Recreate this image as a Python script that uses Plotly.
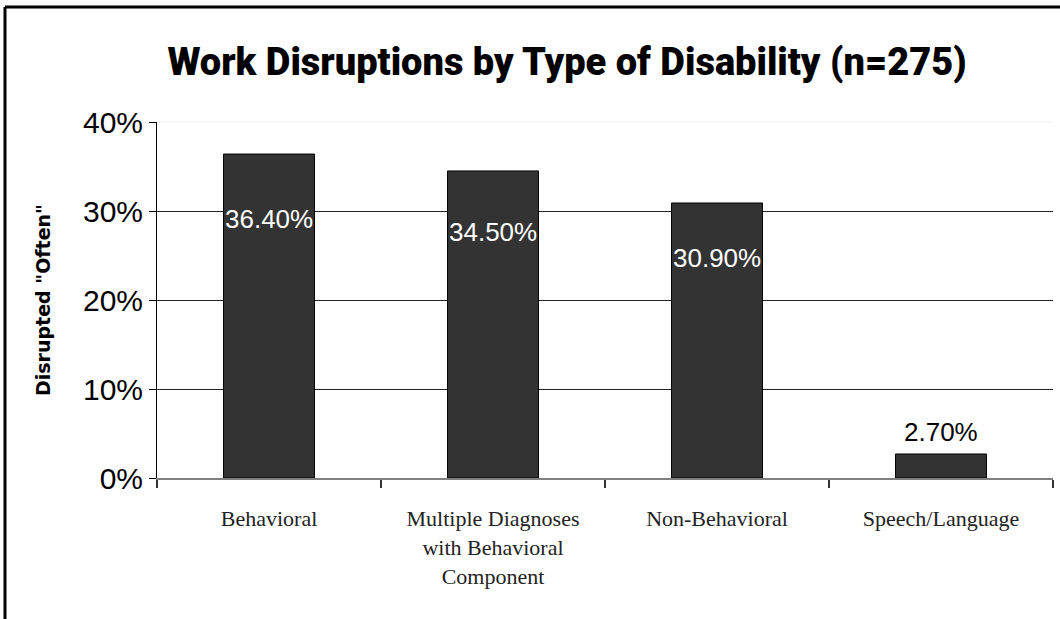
import plotly.graph_objects as go

categories = ["Behavioral", "Multiple Diagnoses<br>with Behavioral<br>Component", "Non-Behavioral", "Speech/Language"]
values = [36.4, 34.5, 30.9, 2.7]
labels = ["36.40%", "34.50%", "30.90%", "2.70%"]
y_ticks = [0, 10, 20, 30, 40]
y_tick_text = ["0%", "10%", "20%", "30%", "40%"]

fig = go.Figure()
fig.add_trace(go.Bar(
    x=categories, y=values,
    marker=dict(color="#333333", line=dict(color="#000000", width=1)),
    hoverinfo="skip",
))

# data labels: inside (white) for tall bars, above (black) for the short one
for c, v, t in zip(categories, values, labels):
    if v > 10:
        fig.add_annotation(x=c, y=v * 0.8, text=t, showarrow=False,
                           font=dict(family="Liberation Sans, Arial", size=26, color="white"),
                           yanchor="middle")
    else:
        fig.add_annotation(x=c, y=v, text=t, showarrow=False, yshift=5,
                           font=dict(family="Liberation Sans, Arial", size=26, color="black"),
                           yanchor="bottom")

W, H = 1060, 619
L, R, T, B = 157, 7, 122, 141
pw = W - L - R
ph = H - T - B

def px_x(p):
    return (p - L) / pw

def px_y(p):
    return (H - B - p) / ph

fig.update_layout(
    width=W, height=H,
    margin=dict(l=L, r=R, t=T, b=B),
    paper_bgcolor="white", plot_bgcolor="white",
    bargap=0.594,
    showlegend=False,
    title=dict(text="Work Disruptions by Type of Disability (n=275)",
               x=567 / W, xref="container", xanchor="center",
               y=1 - 62 / H, yref="container", yanchor="middle",
               font=dict(family="Roboto, Liberation Sans, Arial", size=38, color="black", weight=900)),
    xaxis=dict(
        type="category", tickson="boundaries", ticks="outside", ticklen=8,
        tickcolor="#333333", tickwidth=2,
        showline=True, linecolor="#808080", linewidth=2,
        showgrid=False,
        tickfont=dict(family="Liberation Serif, Times New Roman, serif", size=22, color="#222222"),
        ticklabelstandoff=20,
    ),
    yaxis=dict(
        range=[0, 40], tickvals=y_ticks, ticktext=y_tick_text,
        ticks="outside", ticklen=7, tickcolor="black",
        showline=True, linecolor="black", linewidth=1,
        showgrid=True, gridcolor="#222222", gridwidth=1,
        zeroline=False,
        tickfont=dict(family="Liberation Sans, Arial", size=30, color="black"),
        ticklabelstandoff=0,
        title=dict(text='Disrupted "Often"', standoff=27,
                   font=dict(family="DejaVu Sans, Liberation Sans, Arial", size=19, color="black", weight="bold")),
    ),
    shapes=[
        # faint top gridline
        dict(type="line", xref="x domain", yref="y domain", x0=0, x1=1, y0=1, y1=1,
             line=dict(color="#eeeeee", width=1)),
        # outer frame (left and top edges)
        dict(type="line", xref="paper", yref="paper",
             x0=px_x(5), x1=px_x(5), y0=px_y(7), y1=px_y(H + 10),
             line=dict(color="black", width=3)),
        dict(type="line", xref="paper", yref="paper",
             x0=px_x(5), x1=px_x(W + 10), y0=px_y(7), y1=px_y(7),
             line=dict(color="black", width=3)),
    ],
)

fig.write_html("out.html", config={"displayModeBar": False},
               post_script="document.body.style.margin='0';document.body.style.overflow='hidden';")
